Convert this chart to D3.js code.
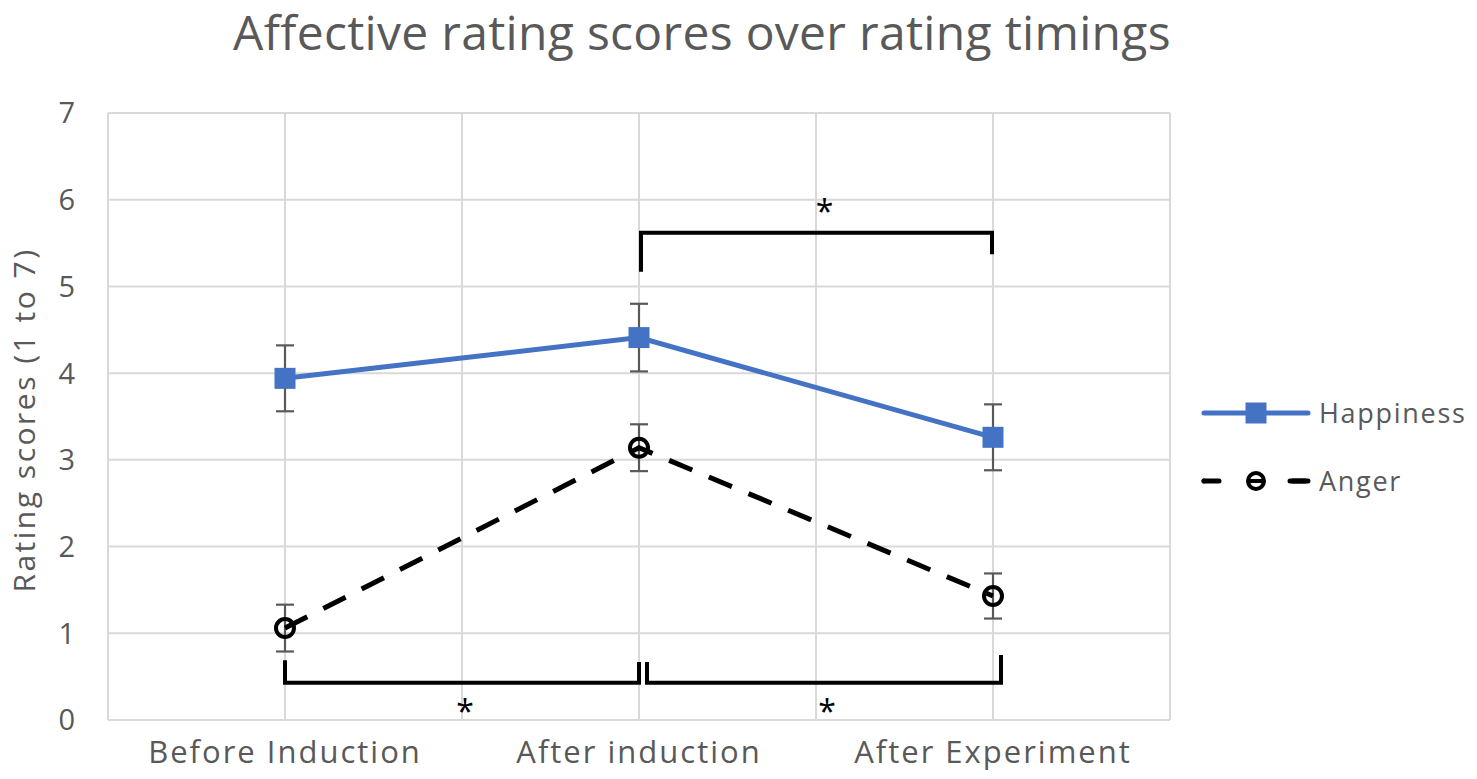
<!DOCTYPE html>
<html lang="en">
<head>
  <meta charset="UTF-8">
  <title>Affective rating scores over rating timings</title>
  <script src="https://d3js.org/d3.v7.min.js"></script>
  <style>
    body { margin: 0; background: white; font-family: "Open Sans", "Noto Sans", sans-serif; }
    svg text { fill: #595959; }
  </style>
</head>
<body>
  <svg id="chart" width="1477" height="779"></svg>

  <script>
    const categories = ["Before Induction", "After induction", "After Experiment"];
    const happiness = [3.94, 4.41, 3.26];
    const happinessErr = [0.38, 0.39, 0.38];
    const anger = [1.06, 3.14, 1.43];
    const angerErr = [0.27, 0.27, 0.26];
    const yTicks = [0, 1, 2, 3, 4, 5, 6, 7];

    // significance brackets: from/to category index, bar level, leg ends and star centre (rating units)
    const brackets = [
      { from: 1, to: 2, level: 5.62, legFrom: 5.17, legTo: 5.37, shiftFrom: 2, shiftTo: -1, star: 5.94, starShift: 8 },
      { from: 0, to: 1, level: 0.43, legFrom: 0.69, legTo: 0.67, shiftFrom: 0, shiftTo: 0, star: 0.17, starShift: 3 },
      { from: 1, to: 2, level: 0.43, legFrom: 0.67, legTo: 0.75, shiftFrom: 8, shiftTo: 8, star: 0.17, starShift: 3 }
    ];

    const svg = d3.select("#chart");
    const mLeft = 108, mRight = 1170, mTop = 113, mBottom = 720;

    const x = d3.scaleBand().domain(categories).range([mLeft, mRight]);
    const cx = c => x(c) + x.bandwidth() / 2;
    const y = d3.scaleLinear().domain([0, 7]).range([mBottom, mTop]);

    // gridlines
    const grid = svg.append("g").attr("stroke", "#d9d9d9").attr("stroke-width", 2);
    grid.selectAll(".h").data(yTicks).enter().append("line")
      .attr("x1", mLeft).attr("x2", mRight)
      .attr("y1", d => y(d)).attr("y2", d => y(d));
    const vx = [];
    categories.forEach(c => { vx.push(x(c)); vx.push(cx(c)); });
    vx.push(mRight);
    grid.selectAll(".v").data(vx).enter().append("line")
      .attr("x1", d => d).attr("x2", d => d)
      .attr("y1", mTop).attr("y2", mBottom);

    // axes labels
    svg.append("g").selectAll("text").data(yTicks).enter().append("text")
      .attr("x", 75).attr("y", d => y(d)).attr("dy", "0.36em")
      .attr("text-anchor", "end").style("font-size", "29px")
      .text(d => d);

    svg.append("g").selectAll("text").data(categories).enter().append("text")
      .attr("x", d => cx(d)).attr("y", 763)
      .attr("text-anchor", "middle").style("font-size", "31px")
      .style("letter-spacing", "2px")
      .text(d => d);

    svg.append("text")
      .attr("transform", "translate(35," + 420 + ") rotate(-90)")
      .attr("text-anchor", "middle").style("font-size", "30px")
      .style("letter-spacing", "2.5px")
      .text("Rating scores (1 to 7)");

    svg.append("text")
      .attr("x", 702).attr("y", 50)
      .attr("text-anchor", "middle").style("font-size", "48px")
      .style("letter-spacing", "0.3px")
      .text("Affective rating scores over rating timings");

    // series
    const line = d3.line().x((d, i) => cx(categories[i])).y(d => y(d));

    function errorBars(values, errs) {
      const g = svg.append("g").attr("stroke", "#595959").attr("stroke-width", 2.2);
      values.forEach((v, i) => {
        const px = cx(categories[i]);
        g.append("line").attr("x1", px).attr("x2", px).attr("y1", y(v - errs[i])).attr("y2", y(v + errs[i]));
        [v - errs[i], v + errs[i]].forEach(e => {
          g.append("line").attr("x1", px - 9).attr("x2", px + 9).attr("y1", y(e)).attr("y2", y(e));
        });
      });
    }

    errorBars(happiness, happinessErr);
    errorBars(anger, angerErr);

    svg.append("path").datum(happiness)
      .attr("d", line).attr("fill", "none")
      .attr("stroke", "#4472c4").attr("stroke-width", 5);
    svg.append("g").selectAll("rect").data(happiness).enter().append("rect")
      .attr("x", (d, i) => cx(categories[i]) - 10.5).attr("y", d => y(d) - 10.5)
      .attr("width", 21).attr("height", 21).attr("fill", "#4472c4");

    svg.append("path").datum(anger)
      .attr("d", line).attr("fill", "none")
      .attr("stroke", "#000").attr("stroke-width", 5)
      .attr("stroke-dasharray", "25,18");
    svg.append("g").selectAll("circle").data(anger).enter().append("circle")
      .attr("cx", (d, i) => cx(categories[i])).attr("cy", d => y(d))
      .attr("r", 9).attr("fill", "none").attr("stroke", "#000").attr("stroke-width", 4);

    // significance brackets
    const bg = svg.append("g").attr("fill", "none").attr("stroke", "#000").attr("stroke-width", 4);
    brackets.forEach(b => {
      const x1 = cx(categories[b.from]) + b.shiftFrom;
      const x2 = cx(categories[b.to]) + b.shiftTo;
      bg.append("path").attr("d",
        "M" + x1 + "," + y(b.legFrom) + "V" + y(b.level) + "H" + x2 + "V" + y(b.legTo));
      svg.append("text")
        .attr("x", (x1 + x2) / 2 + b.starShift).attr("y", y(b.star)).attr("dy", "0.56em")
        .attr("text-anchor", "middle").style("font-size", "32px").style("fill", "#000")
        .text("*");
    });

    // legend
    const legend = svg.append("g");
    const lx1 = 1204, lx2 = 1308, lmid = 1256;
    legend.append("line").attr("x1", lx1).attr("x2", lx2).attr("y1", 413).attr("y2", 413)
      .attr("stroke", "#4472c4").attr("stroke-width", 5).attr("stroke-linecap", "round");
    legend.append("rect").attr("x", lmid - 10.5).attr("y", 402.5).attr("width", 21).attr("height", 21)
      .attr("fill", "#4472c4");
    legend.append("text").attr("x", 1319).attr("y", 413).attr("dy", "0.36em")
      .style("font-size", "27px").style("letter-spacing", "1.7px").text("Happiness");

    legend.append("line").attr("x1", lx1).attr("x2", lx2).attr("y1", 481).attr("y2", 481)
      .attr("stroke", "#000").attr("stroke-width", 5).attr("stroke-linecap", "round")
      .attr("stroke-dasharray", "15,71");
    legend.append("line").attr("x1", lx1).attr("x2", lx2).attr("y1", 481).attr("y2", 481)
      .attr("stroke", "#000").attr("stroke-width", 5).attr("stroke-linecap", "round")
      .attr("stroke-dasharray", "0,89,15,0");
    legend.append("circle").attr("cx", lmid).attr("cy", 481).attr("r", 8)
      .attr("fill", "none").attr("stroke", "#000").attr("stroke-width", 4);
    legend.append("line").attr("x1", lmid - 8).attr("x2", lmid + 8).attr("y1", 481).attr("y2", 481)
      .attr("stroke", "#000").attr("stroke-width", 4);
    legend.append("text").attr("x", 1319).attr("y", 481).attr("dy", "0.36em")
      .style("font-size", "27px").style("letter-spacing", "1.7px").text("Anger");
  </script>
</body>
</html>
